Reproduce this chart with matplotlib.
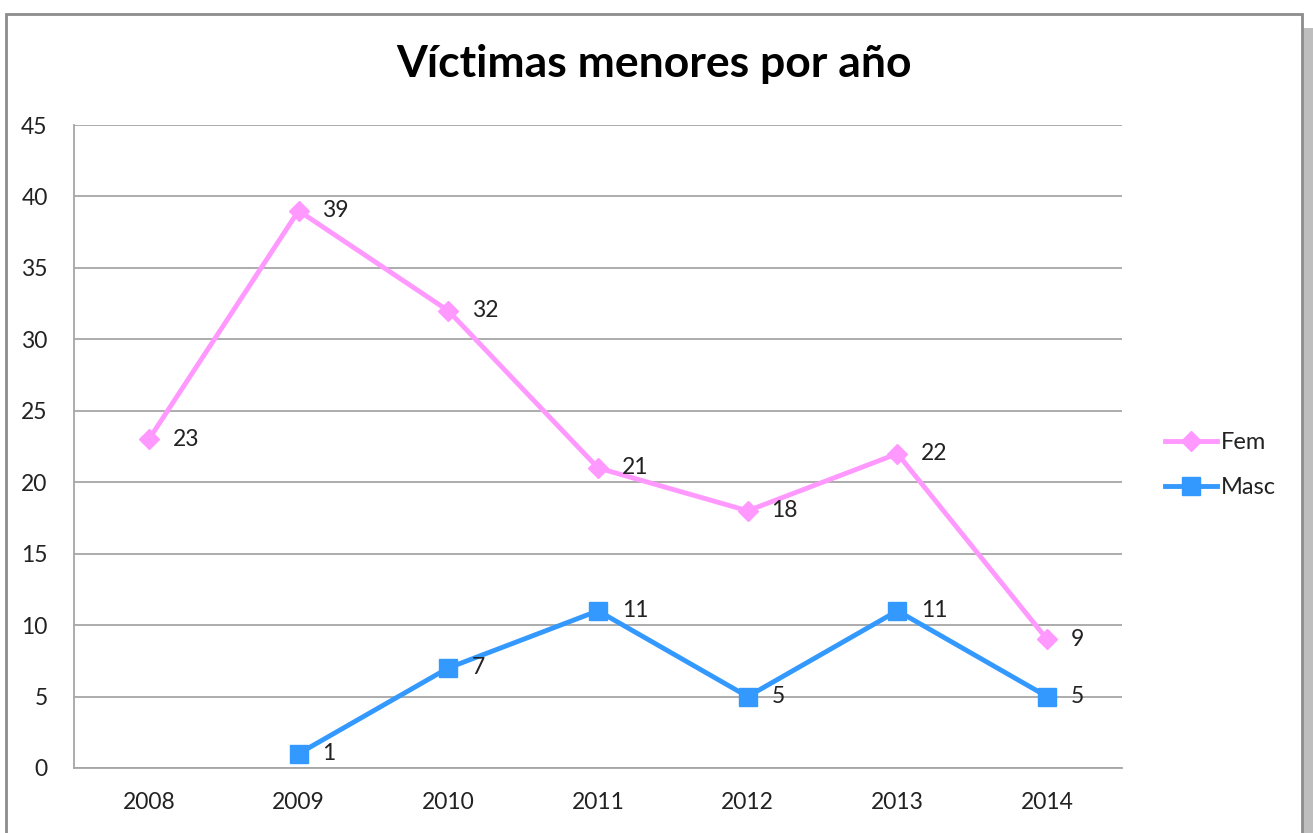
import matplotlib
matplotlib.use("Agg")
import matplotlib.pyplot as plt
from matplotlib.patches import Rectangle
import numpy as np

years = ["2008", "2009", "2010", "2011", "2012", "2013", "2014"]
fem = [23, 39, 32, 21, 18, 22, 9]
masc = [None, 1, 7, 11, 5, 11, 5]
yticks = [0, 5, 10, 15, 20, 25, 30, 35, 40, 45]
title = "Víctimas menores por año"

plt.rcParams['font.family'] = ['Lato', 'DejaVu Sans']

W, H = 1313, 833
fig = plt.figure(figsize=(W / 100, H / 100), dpi=100)
fig.patch.set_facecolor("white")

# outer frame and shadow
fig.patches.append(Rectangle((1302 / W, 0), 11 / W, 1 - 28 / H, transform=fig.transFigure,
                             facecolor="#BEBEBE", edgecolor="none", zorder=0))
fig.patches.append(Rectangle((6 / W, -0.01), 1296 / W, 1 - 14 / H + 0.01, transform=fig.transFigure,
                             facecolor="white", edgecolor="#8C8C8C", linewidth=2, zorder=1))

ax = fig.add_axes([74 / W, 1 - 768 / H, (1122 - 74) / W, (768 - 125) / H])
ax.set_facecolor("none")
ax.set_zorder(2)

x = np.arange(len(years))
fem_col = "#FF99FF"
masc_col = "#3399FF"

ax.plot(x, fem, color=fem_col, linewidth=3.5, marker="D", markersize=10,
        markerfacecolor=fem_col, markeredgecolor=fem_col, label="Fem", zorder=3)
mx = [xi for xi, v in zip(x, masc) if v is not None]
mv = [v for v in masc if v is not None]
ax.plot(mx, mv, color=masc_col, linewidth=3.5, marker="s", markersize=13,
        markerfacecolor=masc_col, markeredgecolor=masc_col, label="Masc", zorder=3)

for xi, v in zip(x, fem):
    ax.annotate(str(v), (xi, v), xytext=(17, 0), textcoords="offset points",
                ha="left", va="center", fontsize=16.5, color="#222222", zorder=4)
for xi, v in zip(mx, mv):
    ax.annotate(str(v), (xi, v), xytext=(17, 0), textcoords="offset points",
                ha="left", va="center", fontsize=16.5, color="#222222", zorder=4)

ax.set_xlim(-0.5, len(years) - 0.5)
ax.set_ylim(0, 45)
ax.set_yticks(yticks)
ax.set_xticks(x)
ax.set_xticklabels(years)
ax.tick_params(axis="both", length=0, labelsize=16.5, colors="#222222")
ax.tick_params(axis="y", pad=19)
ax.tick_params(axis="x", pad=17)
ax.yaxis.grid(True, color="#A6A6A6", linewidth=1.3)
ax.set_axisbelow(True)
for s in ["top", "right"]:
    ax.spines[s].set_visible(False)
for s in ["left", "bottom"]:
    ax.spines[s].set_color("#A6A6A6")
    ax.spines[s].set_linewidth(1.3)

fig.text(654 / W, 1 - 64 / H, title, ha="center", va="center", fontsize=32,
         fontweight="bold", color="black")

leg = fig.legend(loc="center left", bbox_to_anchor=(1144 / W, 1 - 465 / H), frameon=False,
                 fontsize=17, handlelength=2.2, handletextpad=0.15, labelspacing=1.0)
for t in leg.get_texts():
    t.set_color("#222222")

fig.savefig("out.png", dpi=100, facecolor="white")
